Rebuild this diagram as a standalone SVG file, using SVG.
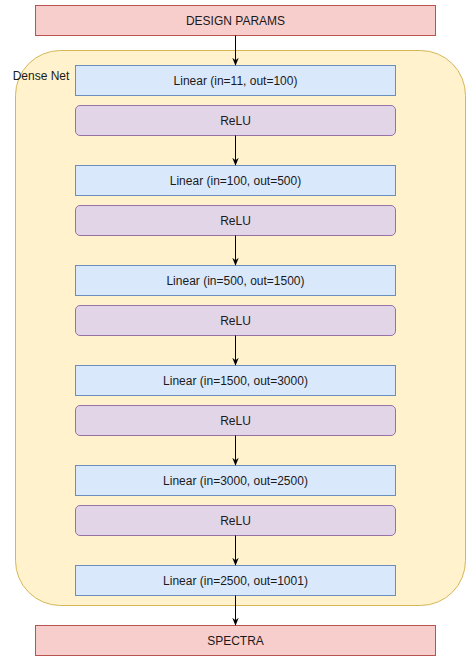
<svg xmlns="http://www.w3.org/2000/svg" width="471" height="661" viewBox="0 0 471 661">
<defs>
<style>
text{font-family:"Liberation Sans",Arial,sans-serif;font-size:12px;fill:#1a1a1a;text-anchor:middle;dominant-baseline:central}
.io{fill:#f8cecc;stroke:#b85450}
.lin{fill:#dae8fc;stroke:#6c8ebf}
.relu{fill:#e1d5e7;stroke:#9673a6}
.net{fill:#fff2cc;stroke:#d6b656}
.edge{stroke:#000;stroke-width:1;fill:none;marker-end:url(#ah)}
</style>
<marker id="ah" viewBox="0 0 10 10" refX="9" refY="5" markerWidth="8" markerHeight="8" markerUnits="userSpaceOnUse" orient="auto">
<path d="M0,1 L10,5 L0,9 L3,5 Z" fill="#000"/>
</marker>
</defs>
<g id="dense-net">
<rect class="net" x="15.5" y="50.5" width="450" height="555" rx="45" ry="45"/>
<text x="41" y="76">Dense Net</text>
</g>
<g id="design-params"><rect class="io" x="35.5" y="5.5" width="400" height="30"/><text x="235.5" y="20.5">DESIGN PARAMS</text></g>
<g id="linear1"><rect class="lin" x="75.5" y="65.5" width="320" height="30"/><text x="235.5" y="80.5">Linear (in=11, out=100)</text></g>
<g id="relu1"><rect class="relu" x="75.5" y="105.5" width="320" height="30" rx="4.5"/><text x="235.5" y="120.5">ReLU</text></g>
<g id="linear2"><rect class="lin" x="75.5" y="165.5" width="320" height="30"/><text x="235.5" y="180.5">Linear (in=100, out=500)</text></g>
<g id="relu2"><rect class="relu" x="75.5" y="205.5" width="320" height="30" rx="4.5"/><text x="235.5" y="220.5">ReLU</text></g>
<g id="linear3"><rect class="lin" x="75.5" y="265.5" width="320" height="30"/><text x="235.5" y="280.5">Linear (in=500, out=1500)</text></g>
<g id="relu3"><rect class="relu" x="75.5" y="305.5" width="320" height="30" rx="4.5"/><text x="235.5" y="320.5">ReLU</text></g>
<g id="linear4"><rect class="lin" x="75.5" y="365.5" width="320" height="30"/><text x="235.5" y="380.5">Linear (in=1500, out=3000)</text></g>
<g id="relu4"><rect class="relu" x="75.5" y="405.5" width="320" height="30" rx="4.5"/><text x="235.5" y="420.5">ReLU</text></g>
<g id="linear5"><rect class="lin" x="75.5" y="465.5" width="320" height="30"/><text x="235.5" y="480.5">Linear (in=3000, out=2500)</text></g>
<g id="relu5"><rect class="relu" x="75.5" y="505.5" width="320" height="30" rx="4.5"/><text x="235.5" y="520.5">ReLU</text></g>
<g id="linear6"><rect class="lin" x="75.5" y="565.5" width="320" height="30"/><text x="235.5" y="580.5">Linear (in=2500, out=1001)</text></g>
<g id="spectra"><rect class="io" x="35.5" y="625.5" width="400" height="30"/><text x="235.5" y="640.5">SPECTRA</text></g>
<g id="connectors">
<path class="edge" d="M235.5,35.5 V65"/>
<path class="edge" d="M235.5,135.5 V165"/>
<path class="edge" d="M235.5,235.5 V265"/>
<path class="edge" d="M235.5,335.5 V365"/>
<path class="edge" d="M235.5,435.5 V465"/>
<path class="edge" d="M235.5,535.5 V565"/>
<path class="edge" d="M235.5,595.5 V625"/>
</g>
</svg>
